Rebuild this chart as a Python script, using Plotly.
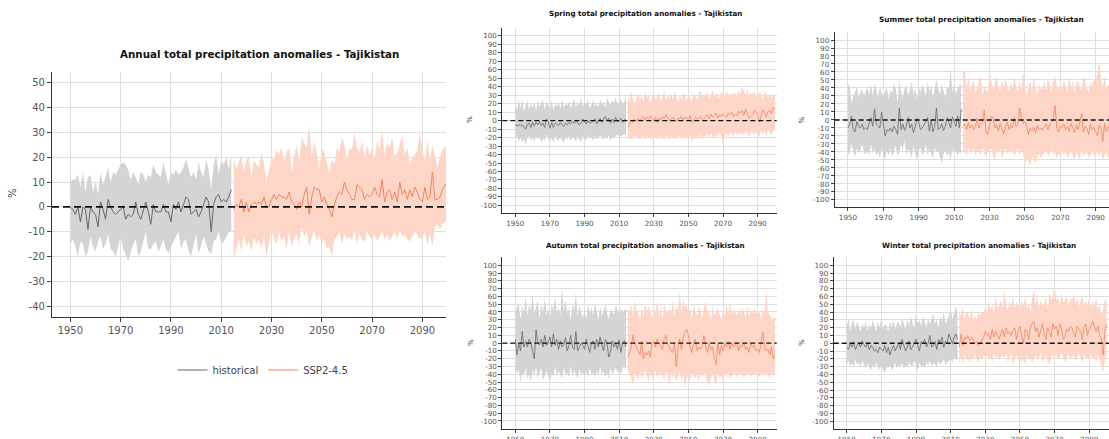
import plotly.graph_objects as go

HIST_YEARS = list(range(1950, 2015))
SSP_YEARS = list(range(2015, 2101))

# ---------------- Annual ----------------
ann_hist_mean = [0, -1, -3, 0, -6, 0, -1, -9, 0, -2,
                 -3, -8, 2, -1, -5, 3, 0, -2, -3, -2,
                 -1, 0, -5, -3, -4, -3, 2, -3, -5, -1,
                 2, -2, -7, 1, -2, -2, -2, 1, -2, -2,
                 -6, 1, -1, 2, -2, 1, 4, 3, -3, -2,
                 -1, -4, -2, 1, 4, 2, -10, 1, 4, 5,
                 2, 3, 2, 4, 7]
ann_hist_up = [10, 11, 11, 13, 8, 14, 6, 12, 13, 6,
               10, 5, 14, 9, 12, 16, 10, 14, 13, 15,
               17, 18, 17, 15, 11, 14, 12, 9, 14, 13,
               10, 13, 12, 17, 14, 13, 12, 18, 14, 9,
               14, 13, 15, 13, 14, 16, 19, 15, 12, 14,
               11, 18, 14, 12, 19, 15, 7, 17, 21, 13,
               19, 17, 20, 15, 21]
ann_hist_lo = [-15, -13, -16, -20, -14, -15, -20, -18, -12, -16,
               -18, -14, -12, -17, -15, -11, -17, -18, -20, -16,
               -12, -17, -19, -22, -18, -15, -13, -20, -18, -14,
               -10, -17, -17, -15, -14, -18, -16, -13, -17, -19,
               -16, -14, -12, -10, -17, -14, -13, -18, -20, -16,
               -11, -19, -15, -12, -15, -18, -19, -14, -13, -10,
               -15, -14, -12, -10, -10]
ann_ssp_mean = [-1, 1, 0, 3, -2,
                2, -2, 1, 2, 1, 2, 1, 4, 0, 0,
                3, 5, 3, 5, 4, 4, 3, 6, 2, 1,
                -1, 2, 0, 5, 8, -3, 4, 8, 7, 7,
                2, 4, 1, -1, -4, 1, 4, 6, 5, 10,
                7, 5, 3, 3, 9, 8, 7, 3, 5, 4,
                5, 8, 5, 4, 11, 2, 6, 7, 3, 6,
                2, 10, 5, 7, 3, 7, 4, 8, 6, 3,
                2, 8, 3, 4, 14, 3, 3, 4, 7, 9,
                9]
ann_ssp_up = [20, 15, 18, 21, 14,
              19, 20, 12, 19, 17, 16, 22, 18, 10, 15,
              20, 19, 23, 21, 24, 18, 22, 24, 14, 20,
              25, 18, 28, 26, 24, 33, 20, 26, 22, 15,
              24, 22, 18, 14, 19, 17, 24, 22, 28, 25,
              19, 24, 23, 30, 24, 22, 27, 20, 25, 21,
              24, 19, 27, 23, 31, 21, 26, 24, 28, 20,
              22, 25, 29, 21, 24, 17, 20, 21, 23, 30,
              24, 18, 27, 19, 25, 20, 16, 20, 23, 24,
              24]
ann_ssp_lo = [-21, -17, -13, -18, -11,
              -16, -14, -18, -12, -15, -13, -17, -12, -20, -14,
              -9, -13, -15, -10, -14, -12, -17, -10, -16, -13,
              -11, -15, -8, -12, -10, -16, -12, -9, -14, -11,
              -15, -13, -17, -16, -20, -13, -12, -10, -15, -11,
              -13, -12, -14, -9, -15, -11, -13, -14, -10, -12,
              -13, -11, -14, -12, -10, -13, -11, -14, -12, -10,
              -13, -9, -12, -11, -13, -14, -12, -10, -11, -13,
              -12, -10, -15, -11, -16, -8, -7, -9, -7, -6,
              -7]

# ---------------- Spring ----------------
spr_hist_mean = [-5, -6, -5, -6, -5, -7, -10, -4, -3, -8,
                 -2, -6, -2, -5, -1, -6, -3, -8, 2, -1,
                 -9, -2, -8, -3, -4, -6, -2, -5, -7, -3,
                 -5, -2, -4, -1, -3, 0, -2, -5, -3, 2,
                 -1, -4, 0, -3, -2, -1, 2, -4, 0, 3,
                 -2, 1, 5, 0, 3, -3, 2, -2, 4, -1,
                 0, 3, -2, 1, 2]
spr_hist_up = [22, 12, 25, 14, 26, 10, 18, 24, 13, 20,
               15, 22, 12, 24, 16, 20, 25, 13, 22, 18,
               14, 24, 12, 20, 17, 22, 14, 26, 15, 20,
               18, 23, 14, 21, 25, 15, 22, 18, 27, 16,
               22, 19, 26, 14, 20, 24, 17, 21, 16, 25,
               19, 23, 15, 27, 22, 18, 24, 20, 28, 19,
               22, 26, 18, 24, 28]
spr_hist_lo = [-22, -18, -25, -20, -26, -22, -28, -20, -18, -24,
               -20, -25, -18, -22, -19, -26, -21, -24, -17, -22,
               -25, -20, -26, -18, -22, -24, -19, -23, -26, -20,
               -22, -18, -24, -20, -21, -25, -19, -22, -26, -18,
               -20, -23, -17, -21, -19, -24, -18, -22, -20, -17,
               -19, -22, -18, -21, -17, -23, -19, -20, -18, -17,
               -18, -19, -17, -16, -18]
spr_ssp_mean = [-8, -3, 0, -2, 2,
                -1, 3, 0, 2, 5, 1, 4, 2, 6, 3,
                0, 4, -2, 3, 1, 5, 2, 7, 3, 0,
                2, 4, 1, -1, 3, 2, 5, 1, 4, 3,
                2, 6, -2, 0, 4, 2, 3, 5, 1, 3,
                5, 7, 2, 8, 4, 6, 9, 3, 7, 5,
                8, 6, 4, 9, 7, 10, 5, 8, 6, 11,
                9, 12, 6, 14, 8, 3, 5, 7, 12, 10,
                8, -2, 6, 13, 10, 4, 11, 12, 8, 15,
                14]
spr_ssp_up = [30, 22, 35, 25, 20,
              28, 33, 24, 30, 22, 35, 27, 31, 20, 26,
              34, 25, 29, 33, 23, 28, 36, 24, 30, 27,
              32, 25, 35, 28, 22, 30, 26, 34, 29, 24,
              31, 27, 22, 33, 28, 25, 30, 36, 27, 32,
              29, 34, 26, 31, 35, 28, 33, 30, 27, 34,
              32, 29, 35, 31, 28, 33, 30, 34, 29, 36,
              31, 40, 35, 30, 38, 28, 33, 31, 35, 30,
              29, 34, 31, 25, 35, 30, 28, 32, 27, 30,
              29]
spr_ssp_lo = [-22, -18, -23, -20, -17,
              -21, -19, -23, -18, -20, -22, -17, -21, -19, -23,
              -18, -20, -22, -16, -21, -19, -24, -17, -20, -22,
              -18, -21, -19, -23, -17, -20, -22, -18, -21, -19,
              -20, -17, -26, -19, -22, -18, -20, -16, -21, -18,
              -19, -16, -20, -15, -18, -21, -17, -19, -14, -18,
              -31, -17, -15, -19, -14, -16, -18, -13, -17, -15,
              -16, -14, -18, -12, -16, -19, -15, -13, -17, -14,
              -15, -20, -12, -16, -13, -18, -11, -14, -17, -12,
              -13]

# ---------------- Summer ----------------
sum_hist_mean = [-10, -5, 5, -12, -15, -2, -8, -10, -5, -12,
                 -10, -12, -4, 3, -8, 14, -5, -8, -10, 10,
                 -3, -20, -12, -14, -10, -15, -8, -12, -18, 15,
                 -12, -5, -13, -8, 3, -10, -5, -16, -8, 2,
                 -3, -12, -10, -5, -2, 3, -14, 0, -15, -8,
                 15, -12, -10, -5, -13, -8, 3, -3, -10, 4,
                 -2, -8, 5, -10, 14]
sum_hist_up = [45, 42, 20, 30, 35, 42, 28, 35, 38, 30,
               36, 40, 32, 44, 30, 45, 38, 28, 42, 34,
               30, 36, 42, 25, 38, 33, 45, 40, 22, 48,
               35, 28, 40, 44, 30, 38, 48, 32, 40, 26,
               42, 34, 45, 38, 30, 48, 35, 44, 28, 40,
               50, 38, 32, 45, 36, 28, 42, 40, 65, 35,
               45, 32, 40, 44, 45]
sum_hist_lo = [-45, -40, -30, -38, -47, -35, -42, -38, -30, -40,
               -43, -38, -44, -30, -42, -36, -45, -40, -48, -35,
               -42, -50, -38, -44, -35, -46, -40, -32, -45, -42,
               -30, -38, -25, -44, -36, -40, -48, -33, -42, -50,
               -38, -34, -45, -40, -30, -44, -36, -42, -48, -35,
               -40, -38, -46, -55, -42, -38, -45, -40, -50, -36,
               -42, -38, -44, -40, -42]
sum_ssp_mean = [-8, -5, -12, -3, -10,
                -6, -12, -8, 2, -10, -5, -3, 12, -15, -18,
                -5, 5, 3, -10, -6, -14, -4, -10, -18, -8,
                -3, -12, -6, -10, 3, -8, -5, 15, 2, -4,
                -2, -8, -18, -10, -14, -9, -16, -7, -12, -10,
                -13, -8, -5, -12, -6, -3, 0, 18, -10, -15,
                -8, -10, -5, -12, -8, -14, -4, -10, -16, -6,
                -12, -3, 8, -15, -8, -10, -18, -5, -12, -9,
                -14, -20, -6, -10, -27, -4, -15, -8, -12, -5,
                -10]
sum_ssp_up = [60, 62, 40, 55, 38,
              45, 50, 35, 40, 48, 55, 30, 42, 38, 35,
              62, 50, 38, 46, 55, 42, 35, 50, 40, 52,
              45, 35, 48, 40, 55, 42, 35, 50, 38, 60,
              45, 30, 42, 48, 36, 55, 40, 32, 45, 38,
              40, 48, 36, 52, 45, 35, 48, 56, 42, 38,
              45, 38, 50, 42, 35, 55, 40, 48, 36, 44,
              50, 42, 38, 55, 46, 40, 35, 48, 42, 52,
              45, 60, 74, 50, 42, 56, 38, 45, 40, 36,
              40]
sum_ssp_lo = [-42, -38, -45, -35, -40,
              -42, -36, -45, -38, -40, -44, -35, -42, -48, -38,
              -40, -35, -45, -50, -38, -42, -36, -48, -40, -35,
              -44, -38, -42, -36, -46, -40, -35, -44, -38, -42,
              -55, -48, -52, -57, -45, -50, -54, -46, -42, -48,
              -44, -40, -38, -46, -42, -36, -44, -40, -48, -42,
              -46, -38, -44, -40, -48, -42, -38, -45, -50, -40,
              -44, -52, -38, -46, -42, -40, -48, -44, -38, -45,
              -42, -40, -46, -38, -52, -44, -40, -48, -42, -45,
              -40]

# ---------------- Autumn ----------------
aut_hist_mean = [5, -15, 0, -10, 15, -5, 2, -5, 5, 0,
                 -10, -20, 17, 0, -2, 5, -5, 10, -3, 0,
                 8, -5, 12, -3, 5, -8, 3, -5, -2, 7,
                 -10, -3, 10, -5, -8, 15, -10, -5, 0, -3,
                 -8, 5, -3, -12, 0, 3, -8, 5, -5, 8,
                 -2, -10, 5, 0, -18, -12, 3, -5, 0, -8,
                 4, -12, 0, 3, -5]
aut_hist_up = [40, 45, 52, 30, 48, 38, 60, 35, 50, 42,
               62, 38, 45, 55, 32, 50, 40, 58, 35, 45,
               30, 50, 42, 60, 38, 46, 35, 72, 40, 55,
               38, 45, 30, 50, 42, 65, 35, 48, 40, 32,
               44, 30, 50, 38, 45, 35, 52, 40, 30, 48,
               35, 42, 50, 38, 30, 44, 40, 36, 48, 42,
               38, 44, 40, 42, 45]
aut_hist_lo = [-30, -40, -35, -50, -38, -42, -32, -45, -40, -50,
               -35, -42, -30, -45, -38, -32, -48, -40, -35, -42,
               -50, -38, -44, -30, -42, -36, -40, -45, -32, -40,
               -38, -44, -30, -42, -35, -40, -46, -34, -40, -38,
               -42, -36, -44, -32, -40, -38, -45, -35, -42, -30,
               -40, -36, -44, -38, -46, -32, -40, -36, -30, -38,
               -35, -40, -32, -30, -35]
aut_ssp_mean = [-18, -10, -5, 10, 0,
                -5, -10, -15, 3, -20, -12, -15, -10, -18, 0,
                2, -5, 5, 0, -3, -8, 5, 10, -2, -5,
                -10, -12, 0, -30, -5, 5, -8, 8, 12, 18,
                10, -5, -12, 0, 5, -10, -5, -8, -3, 10,
                -5, -12, 0, -8, -5, -20, -28, 0, -15, -3,
                -10, 0, -5, 2, -8, 0, -5, -3, 0, -10,
                -2, -5, 0, -8, -5, -12, 0, -5, -3, -10,
                -8, -12, 0, 14, -5, -10, -8, -15, -5, -20,
                -15]
aut_ssp_up = [45, 40, 50, 35, 55,
              42, 38, 30, 45, 35, 50, 40, 48, 38, 32,
              45, 40, 55, 35, 48, 30, 50, 42, 38, 45,
              40, 55, 35, 48, 42, 68, 40, 58, 45, 50,
              38, 45, 30, 50, 42, 35, 48, 40, 32, 45,
              55, 38, 42, 30, 48, 35, 40, 45, 38, 30,
              42, 35, 48, 40, 52, 36, 44, 40, 35, 42,
              38, 45, 40, 32, 48, 35, 42, 38, 45, 40,
              35, 42, 30, 45, 38, 68, 40, 35, 32, 30,
              35]
aut_ssp_lo = [-35, -40, -45, -55, -38,
              -42, -48, -38, -45, -40, -35, -42, -50, -38, -45,
              -40, -35, -45, -38, -42, -40, -48, -36, -42, -55,
              -38, -45, -40, -50, -42, -36, -48, -40, -58, -45,
              -40, -48, -38, -42, -45, -40, -50, -38, -44, -40,
              -42, -50, -55, -45, -40, -48, -55, -38, -45, -42,
              -48, -40, -44, -38, -45, -42, -40, -38, -44, -40,
              -42, -38, -45, -40, -42, -38, -44, -40, -42, -38,
              -40, -44, -38, -42, -40, -38, -42, -44, -40, -42,
              -40]

# ---------------- Winter ----------------
win_hist_mean = [-5, -8, 0, -5, 2, -8, -3, 0, -5, 3,
                 -2, -5, 0, -8, -3, -5, -10, -8, -12, -5,
                 -8, -10, -3, -12, -5, -15, -8, -3, -10, -5,
                 0, -8, 5, -3, -10, -5, 3, -8, -5, 0,
                 5, -3, -10, 2, 0, 5, -5, 0, 10, -5,
                 -3, 2, -8, 5, 0, 8, -5, 3, 0, 12,
                 5, 0, 8, 12, 5]
win_hist_up = [20, 32, 15, 25, 30, 18, 28, 22, 15, 25,
               20, 28, 15, 25, 18, 30, 22, 15, 28, 20,
               32, 18, 25, 22, 15, 28, 20, 30, 18, 25,
               28, 20, 32, 25, 18, 30, 22, 35, 25, 20,
               38, 25, 30, 22, 35, 28, 20, 32, 25, 30,
               38, 25, 30, 20, 35, 28, 40, 25, 30, 35,
               45, 30, 38, 48, 35]
win_hist_lo = [-28, -22, -30, -25, -32, -20, -28, -25, -30, -22,
               -28, -32, -25, -30, -35, -28, -32, -25, -30, -34,
               -28, -35, -38, -30, -32, -28, -35, -30, -25, -32,
               -28, -30, -25, -32, -28, -30, -25, -28, -30, -22,
               -28, -35, -25, -30, -28, -32, -25, -28, -22, -30,
               -25, -28, -30, -22, -28, -25, -20, -28, -25, -22,
               -20, -25, -18, -22, -20]
win_ssp_mean = [-5, 12, -3, 8, 5,
                10, 3, 8, 5, 0, 2, -2, 0, 3, 8,
                15, 10, 12, 5, 18, 8, 15, 10, 5, 12,
                18, 8, 20, 12, 15, 10, 18, 20, 5, 15,
                22, 8, 0, 18, 15, 5, 20, 25, 28, 15,
                20, 8, 18, 25, 12, 5, 20, 15, 8, 25,
                18, 22, 10, 25, 20, 5, 8, 18, 15, 22,
                20, 12, 8, 22, 18, 15, 5, 20, 25, 10,
                18, 22, 28, 20, 15, 22, 10, 5, -15, 15,
                25]
win_ssp_up = [40, 35, 48, 30, 42,
              38, 32, 45, 28, 35, 30, 40, 35, 42, 38,
              48, 40, 55, 42, 50, 38, 62, 45, 48, 55,
              45, 68, 50, 42, 55, 48, 60, 45, 52, 50,
              42, 55, 48, 60, 45, 52, 40, 58, 68, 50,
              60, 45, 55, 48, 50, 60, 42, 65, 55, 62,
              72, 55, 60, 48, 65, 52, 55, 62, 48, 58,
              55, 65, 50, 58, 45, 55, 62, 48, 55, 50,
              58, 45, 55, 48, 60, 42, 50, 35, 45, 55,
              56]
win_ssp_lo = [-25, -18, -28, -15, -22,
              -20, -25, -18, -22, -15, -20, -25, -18, -22, -15,
              -20, -15, -22, -18, -25, -12, -20, -15, -22, -18,
              -15, -20, -12, -25, -18, -15, -28, -20, -15, -22,
              -18, -25, -20, -28, -15, -22, -18, -25, -20, -15,
              -22, -18, -12, -25, -20, -15, -22, -28, -18, -15,
              -20, -15, -22, -18, -12, -20, -25, -18, -15, -22,
              -18, -15, -22, -20, -12, -18, -25, -15, -20, -18,
              -22, -15, -20, -18, -25, -15, -20, -30, -38, -22,
              -15]

X_TICKS = [1950, 1970, 1990, 2010, 2030, 2050, 2070, 2090]
Y_TICKS_ANNUAL = [-40, -30, -20, -10, 0, 10, 20, 30, 40, 50]
Y_TICKS_SEASON = list(range(-100, 101, 10))

TITLES = {
    "annual": "Annual total precipitation anomalies - Tajikistan",
    "spring": "Spring total precipitation anomalies - Tajikistan",
    "summer": "Summer total precipitation anomalies - Tajikistan",
    "autumn": "Autumn total precipitation anomalies - Tajikistan",
    "winter": "Winter total precipitation anomalies - Tajikistan",
}
LEGEND_NAMES = ["historical", "SSP2-4.5"]

HIST_FILL = "#d4d4d4"
HIST_LINE = "#686868"
SSP_FILL = "#fdd6c8"
SSP_LINE = "#f4845c"
FONT = "DejaVu Sans"
W, H = 1109, 439

panels = [
    dict(key="annual", ax="", data=(ann_hist_lo, ann_hist_up, ann_hist_mean, ann_ssp_lo, ann_ssp_up, ann_ssp_mean),
         xd=(52, 446), yd=(72, 317), xr=(1942.7, 2099.4), yr=(-44.4, 54.4), yt=Y_TICKS_ANNUAL,
         tf=10.3, kf=10, title_xy=(259, 54), pct_xy=(12, 193), lw=1.0, dash_w=1.6, dash="7px,4px"),
    dict(key="spring", ax="2", data=(spr_hist_lo, spr_hist_up, spr_hist_mean, spr_ssp_lo, spr_ssp_up, spr_ssp_mean),
         xd=(502.3, 776.7), yd=(28, 213), xr=(1942.5, 2101), yr=(-109, 109.4), yt=Y_TICKS_SEASON,
         tf=7.2, kf=7.2, title_xy=(645, 14), pct_xy=(470, 120), lw=0.8, dash_w=1.3, dash="5px,3px"),
    dict(key="summer", ax="3", data=(sum_hist_lo, sum_hist_up, sum_hist_mean, sum_ssp_lo, sum_ssp_up, sum_ssp_mean),
         xd=(834.7, 1109), yd=(32, 207), xr=(1942.5, 2097.5), yr=(-108.8, 110), yt=Y_TICKS_SEASON,
         tf=7.35, kf=7.2, title_xy=(981, 20), pct_xy=(801.5, 120), lw=0.8, dash_w=1.3, dash="5px,3px"),
    dict(key="autumn", ax="4", data=(aut_hist_lo, aut_hist_up, aut_hist_mean, aut_ssp_lo, aut_ssp_up, aut_ssp_mean),
         xd=(502.3, 776.7), yd=(256.7, 429), xr=(1942.5, 2101), yr=(-110.3, 111), yt=Y_TICKS_SEASON,
         tf=7.2, kf=7.2, title_xy=(645, 245), pct_xy=(470, 343), lw=0.8, dash_w=1.3, dash="5px,3px"),
    dict(key="winter", ax="5", data=(win_hist_lo, win_hist_up, win_hist_mean, win_ssp_lo, win_ssp_up, win_ssp_mean),
         xd=(833.7, 1109), yd=(257, 429.3), xr=(1942.5, 2101.4), yr=(-110.3, 110.6), yt=Y_TICKS_SEASON,
         tf=7.2, kf=7.2, title_xy=(979, 245), pct_xy=(801, 343), lw=0.8, dash_w=1.3, dash="5px,3px"),
]

fig = go.Figure()
annotations = []
shapes = []
layout_axes = {}

for i, p in enumerate(panels):
    xa = "x" + p["ax"]
    ya = "y" + p["ax"]
    hlo, hup, hmean, slo, sup, smean = p["data"]
    first = (i == 0)
    fig.add_trace(go.Scatter(x=HIST_YEARS, y=hlo, mode="lines", line=dict(width=0, color=HIST_FILL),
                             showlegend=False, hoverinfo="skip", xaxis=xa, yaxis=ya))
    fig.add_trace(go.Scatter(x=HIST_YEARS, y=hup, mode="lines", line=dict(width=0, color=HIST_FILL),
                             fill="tonexty", fillcolor=HIST_FILL, showlegend=False, hoverinfo="skip",
                             xaxis=xa, yaxis=ya))
    fig.add_trace(go.Scatter(x=SSP_YEARS, y=slo, mode="lines", line=dict(width=0, color=SSP_FILL),
                             showlegend=False, hoverinfo="skip", xaxis=xa, yaxis=ya))
    fig.add_trace(go.Scatter(x=SSP_YEARS, y=sup, mode="lines", line=dict(width=0, color=SSP_FILL),
                             fill="tonexty", fillcolor=SSP_FILL, showlegend=False, hoverinfo="skip",
                             xaxis=xa, yaxis=ya))
    fig.add_trace(go.Scatter(x=HIST_YEARS, y=hmean, mode="lines", name=LEGEND_NAMES[0],
                             line=dict(width=p["lw"], color=HIST_LINE), showlegend=first,
                             xaxis=xa, yaxis=ya))
    fig.add_trace(go.Scatter(x=SSP_YEARS, y=smean, mode="lines", name=LEGEND_NAMES[1],
                             line=dict(width=p["lw"], color=SSP_LINE), showlegend=first,
                             xaxis=xa, yaxis=ya))

    axis_common = dict(showgrid=True, gridcolor="#dedede", gridwidth=1, zeroline=False,
                       showline=True, linecolor="#333333", linewidth=1.2 if first else 1.0,
                       ticks="outside", ticklen=4 if first else 3, tickcolor="#444444",
                       tickfont=dict(family=FONT, size=p["kf"], color="#555555"),
                       automargin=False, mirror=False, fixedrange=True)
    xkey = "xaxis" + p["ax"]
    ykey = "yaxis" + p["ax"]
    layout_axes[xkey] = dict(axis_common, domain=[p["xd"][0] / W, min(p["xd"][1] / W, 1.0)],
                             range=list(p["xr"]), anchor=ya, tickvals=X_TICKS,
                             ticktext=[str(v) for v in X_TICKS])
    layout_axes[ykey] = dict(axis_common, domain=[1 - p["yd"][1] / H, 1 - p["yd"][0] / H],
                             range=list(p["yr"]), anchor=xa, tickvals=p["yt"],
                             ticktext=[str(v) for v in p["yt"]])

    shapes.append(dict(type="line", xref=xa + " domain", yref=ya, x0=0, x1=1, y0=0, y1=0,
                       line=dict(color="#111111", width=p["dash_w"], dash=p["dash"]), layer="above"))

    annotations.append(dict(text="<b>" + TITLES[p["key"]] + "</b>", xref="paper", yref="paper",
                            x=p["title_xy"][0] / W, y=1 - p["title_xy"][1] / H,
                            xanchor="center", yanchor="middle", showarrow=False,
                            font=dict(family=FONT, size=p["tf"], color="#111111")))
    annotations.append(dict(text="%", xref="paper", yref="paper",
                            x=p["pct_xy"][0] / W, y=1 - p["pct_xy"][1] / H, textangle=-90,
                            xanchor="center", yanchor="middle", showarrow=False,
                            font=dict(family=FONT, size=p["kf"], color="#333333")))

fig.update_layout(
    width=W, height=H,
    margin=dict(l=0, r=0, t=0, b=0),
    paper_bgcolor="white", plot_bgcolor="white",
    font=dict(family=FONT),
    showlegend=True,
    legend=dict(orientation="h", x=263 / W, y=1 - 370 / H, xanchor="center", yanchor="middle",
                font=dict(family=FONT, size=10, color="#444444"), itemwidth=30,
                traceorder="normal", bgcolor="rgba(0,0,0,0)", tracegroupgap=0),
    annotations=annotations,
    shapes=shapes,
    **layout_axes,
)

fig.write_html("out.html")
